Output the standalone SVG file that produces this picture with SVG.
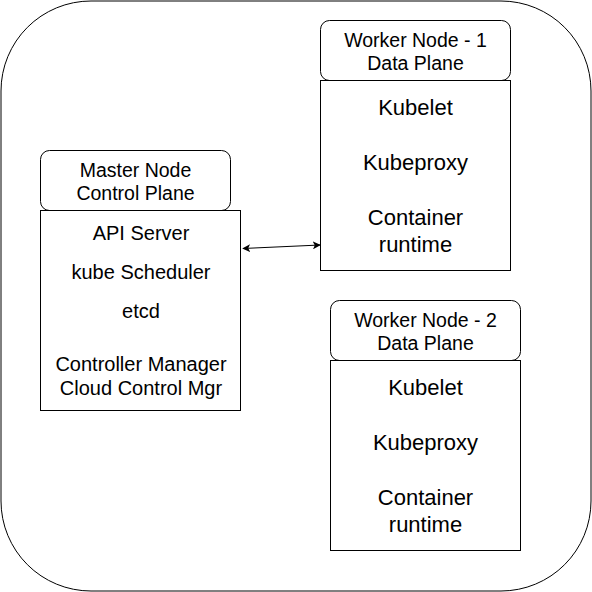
<svg xmlns="http://www.w3.org/2000/svg" width="592" height="592" viewBox="0 0 592 592">
  <style>
    .box { fill: #ffffff; stroke: #000000; stroke-width: 1; }
    .t { font-family: "Liberation Sans", Arial, sans-serif; fill: #000000; text-anchor: middle; }
    .hdr { font-size: 19.5px; }
    .mb { font-size: 20px; }
    .wb { font-size: 22px; }
    .conn { stroke: #000000; stroke-width: 1; fill: none; }
  </style>
  <defs>
    <marker id="arr" viewBox="0 0 10 10" refX="9" refY="5" markerWidth="8" markerHeight="8" markerUnits="userSpaceOnUse" orient="auto-start-reverse">
      <path d="M0,0 L10,5 L0,10 L2.5,5 Z" fill="#000000"/>
    </marker>
  </defs>
  <rect width="592" height="592" fill="#ffffff"/>
  <rect id="cluster" x="1" y="1" width="590" height="590" rx="90" ry="90" class="box"/>

  <g id="master-header">
    <rect x="40.5" y="150.5" width="190" height="60" rx="9" ry="9" class="box"/>
    <text class="t hdr" x="135.5" y="177">Master Node</text>
    <text class="t hdr" x="135.5" y="200">Control Plane</text>
  </g>
  <g id="master-body">
    <rect x="40.5" y="210.5" width="200" height="200" class="box"/>
    <text class="t mb" x="141" y="239.5">API Server</text>
    <text class="t mb" x="141" y="278.5">kube Scheduler</text>
    <text class="t mb" x="141" y="318">etcd</text>
    <text class="t mb" x="141" y="371">Controller Manager</text>
    <text class="t mb" x="141" y="395">Cloud Control Mgr</text>
  </g>

  <g id="worker1-header">
    <rect x="320.5" y="20.5" width="190" height="60" rx="9" ry="9" class="box"/>
    <text class="t hdr" x="415.5" y="47">Worker Node - 1</text>
    <text class="t hdr" x="415.5" y="70">Data Plane</text>
  </g>
  <g id="worker1-body">
    <rect x="320.5" y="80.5" width="190" height="190" class="box"/>
    <text class="t wb" x="415.5" y="114.5">Kubelet</text>
    <text class="t wb" x="415.5" y="169.5">Kubeproxy</text>
    <text class="t wb" x="415.5" y="224.5">Container</text>
    <text class="t wb" x="415.5" y="252">runtime</text>
  </g>

  <g id="worker2-header">
    <rect x="330.5" y="300.5" width="190" height="60" rx="9" ry="9" class="box"/>
    <text class="t hdr" x="425.5" y="327">Worker Node - 2</text>
    <text class="t hdr" x="425.5" y="350">Data Plane</text>
  </g>
  <g id="worker2-body">
    <rect x="330.5" y="360.5" width="190" height="190" class="box"/>
    <text class="t wb" x="425.5" y="394.5">Kubelet</text>
    <text class="t wb" x="425.5" y="449.5">Kubeproxy</text>
    <text class="t wb" x="425.5" y="504.5">Container</text>
    <text class="t wb" x="425.5" y="532">runtime</text>
  </g>

  <g id="connectors">
    <line class="conn" x1="243" y1="248.5" x2="320" y2="245" marker-start="url(#arr)" marker-end="url(#arr)"/>
  </g>
</svg>
